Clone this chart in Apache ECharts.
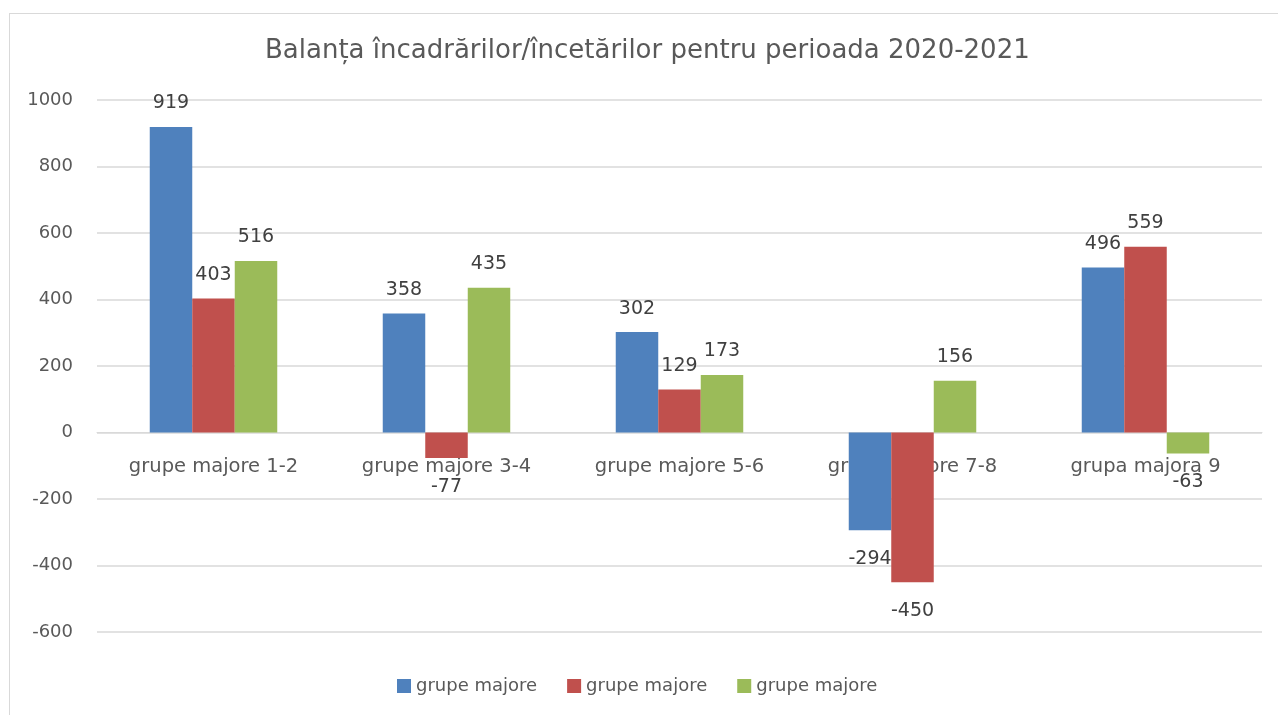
<!DOCTYPE html>
<html>
<head>
<meta charset="utf-8">
<script src="https://cdn.jsdelivr.net/npm/echarts@6/dist/echarts.min.js"></script>
<style>
  html, body { margin: 0; padding: 0; background: #fff; }
  #frame {
    position: absolute; left: 9px; top: 13px; width: 1300px; height: 760px;
    border: 1px solid #d9d9d9; box-sizing: border-box;
  }
  #chart { position: absolute; left: 0; top: 0; width: 1278px; height: 715px; }
</style>
</head>
<body>
<div id="frame"></div>
<div id="chart"></div>
<script>
const categories = ['grupe majore 1-2', 'grupe majore 3-4', 'grupe majore 5-6', 'grupe majore 7-8', 'grupa majora 9'];
const seriesKeys = ['s1', 's2', 's3'];
const seriesLabels = ['grupe majore', 'grupe majore', 'grupe majore'];
const blueValues = [919, 358, 302, -294, 496];
const redValues = [403, -77, 129, -450, 559];
const greenValues = [516, 435, 173, 156, -63];
const colors = ['#4F81BD', '#C0504D', '#9BBB59'];
const yTicks = { min: -600, max: 1000, interval: 200 };

const fontFamily = '"DejaVu Sans", Verdana, sans-serif';

const makeSeries = (name, values, color) => ({
  name: name,
  type: 'bar',
  barWidth: 42.5,
  barGap: '0%',
  itemStyle: { color: color },
  data: values.map((v) => ({
    value: v,
    label: v < 0 ? { position: 'bottom', distance: 19 } : { position: 'top', distance: 14 }
  })),
  label: {
    show: true,
    color: '#404040',
    fontSize: 19,
    fontFamily: fontFamily
  }
});

const chart = echarts.init(document.getElementById('chart'));
chart.setOption({
  animation: false,
  title: {
    text: 'Balanța încadrărilor/încetărilor pentru perioada 2020-2021',
    left: 260,
    top: 33,
    textStyle: { color: '#595959', fontSize: 26, fontWeight: 'normal', fontFamily: fontFamily }
  },
  legend: {
    top: 672,
    left: 392,
    itemWidth: 14,
    itemHeight: 14,
    itemGap: 30,
    icon: 'rect',
    textStyle: { color: '#595959', fontSize: 18, fontFamily: fontFamily },
    data: seriesKeys,
    formatter: (name) => seriesLabels[seriesKeys.indexOf(name)]
  },
  grid: { left: 97, right: 16, top: 100, bottom: 83, containLabel: false },
  xAxis: {
    type: 'category',
    data: categories,
    offset: -200,
    axisTick: { show: false },
    axisLine: { onZero: false, lineStyle: { color: '#d9d9d9', width: 1 } },
    axisLabel: { color: '#595959', fontSize: 19.5, fontFamily: fontFamily, margin: 25 }
  },
  yAxis: {
    type: 'value',
    min: yTicks.min,
    max: yTicks.max,
    interval: yTicks.interval,
    axisLine: { show: false },
    axisTick: { show: false },
    splitLine: { lineStyle: { color: '#d9d9d9', width: 1.5 } },
    axisLabel: { color: '#595959', fontSize: 18, fontFamily: fontFamily, margin: 24, formatter: (v) => String(v) }
  },
  series: [
    makeSeries(seriesKeys[0], blueValues, colors[0]),
    makeSeries(seriesKeys[1], redValues, colors[1]),
    makeSeries(seriesKeys[2], greenValues, colors[2])
  ]
});
</script>
</body>
</html>
